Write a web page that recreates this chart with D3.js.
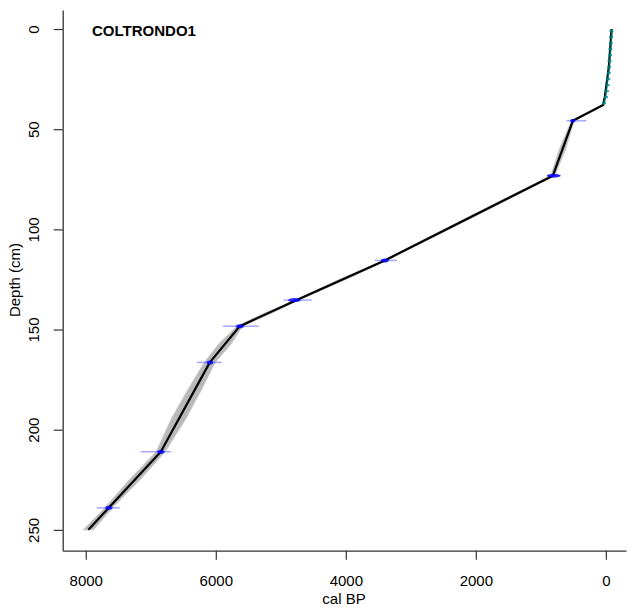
<!DOCTYPE html>
<html>
<head>
<meta charset="utf-8">
<script src="https://cdn.jsdelivr.net/npm/d3@7"></script>
<style>
  body { margin: 0; background: #fff; }
  svg { display: block; font-family: "Liberation Sans", Arial, sans-serif; }
</style>
</head>
<body>
<svg id="chart" width="629" height="607"></svg>
<script>
// age-depth model, mean curve (depth in cm, age in cal BP)
var meanDepth = [0, 19, 33.8, 37.9, 45.8, 73.2, 115.5, 135.3, 148.3, 166.4, 211, 239, 250];
var meanAge   = [-88, -46, 15, 42, 508, 815, 3400, 4754, 5631, 6092, 6846, 7646, 7960];

// grey uncertainty envelope
var bandDepth = [0, 19, 33.8, 37.9, 45.8, 60, 73.2, 95, 115.5, 125, 135.3, 142, 148.3, 157, 166.4, 180, 195, 211, 225, 239, 250];
var bandMin   = [-92, -50, 10, 35, 488, 620, 785, 2105, 3375, 4000, 4725, 5150, 5590, 5760, 6010, 6220, 6470, 6780, 7165, 7590, 7885];
var bandMax   = [-84, -42, 20, 50, 528, 715, 845, 2190, 3425, 4100, 4780, 5265, 5670, 5950, 6175, 6430, 6690, 6915, 7330, 7705, 8040];

// 210Pb dates (teal)
var pbDepth = [1, 4, 7, 10, 13, 16, 19, 22, 25, 28, 31, 34, 37];
var pbAge   = [-86, -82, -76, -70, -63, -56, -50, -44, -37, -28, -17, -2, 30];

// calibrated 14C dates (blue): full range and high-probability range
var dateDepth = [45.8, 73.2, 115.5, 135.3, 148.3, 166.4, 211, 239];
var dateMin   = [300, 690, 3215, 4523, 5338, 5908, 6692, 7477];
var dateMax   = [605, 910, 3553, 4954, 5892, 6292, 7154, 7831];
var hpdMin    = [470, 700, 3340, 4690, 5570, 6040, 6790, 7590];
var hpdMax    = [550, 905, 3460, 4890, 5690, 6140, 6900, 7700];

var xTicks = [8000, 6000, 4000, 2000, 0];
var yTicks = [0, 50, 100, 150, 200, 250];

var svg = d3.select("#chart");

var x = d3.scaleLinear().domain([8355, -310]).range([62.7, 626]);
var y = d3.scaleLinear().domain([-9.5, 260.4]).range([10, 550.7]);

// envelope
var band = bandDepth.map(function(d, i) { return {d: d, lo: bandMin[i], hi: bandMax[i]}; });
svg.append("path")
    .datum(band)
    .attr("fill", "#b9b9b9")
    .attr("stroke", "#c8c8c8")
    .attr("stroke-width", 1)
    .attr("stroke-linejoin", "round")
    .attr("d", d3.area()
      .y(function(d) { return y(d.d); })
      .x0(function(d) { return x(d.lo); })
      .x1(function(d) { return x(d.hi); }));

// mean line
var mean = meanDepth.map(function(d, i) { return {d: d, a: meanAge[i]}; });
svg.append("path")
    .datum(mean)
    .attr("fill", "none")
    .attr("stroke", "#000")
    .attr("stroke-width", 2.2)
    .attr("stroke-linejoin", "round")
    .attr("d", d3.line()
      .x(function(d) { return x(d.a); })
      .y(function(d) { return y(d.d); }));

// lead dates
pbDepth.forEach(function(d, i) {
  svg.append("line")
      .attr("x1", x(pbAge[i]) - 2).attr("x2", x(pbAge[i]) + 2)
      .attr("y1", y(d)).attr("y2", y(d))
      .attr("stroke", "rgba(0,140,140,0.8)")
      .attr("stroke-width", 2);
});
svg.append("path")
    .datum(mean.slice(0, 4))
    .attr("fill", "none")
    .attr("stroke", "rgba(0,130,130,0.75)")
    .attr("stroke-width", 1.6)
    .attr("d", d3.line()
      .x(function(d) { return x(d.a) + 0.6; })
      .y(function(d) { return y(d.d); }));

// radiocarbon dates
dateDepth.forEach(function(d, i) {
  svg.append("line")
      .attr("x1", x(dateMin[i])).attr("x2", x(dateMax[i]))
      .attr("y1", y(d)).attr("y2", y(d))
      .attr("stroke", "rgba(60,60,255,0.45)")
      .attr("stroke-width", 1.5);
  svg.append("ellipse")
      .attr("cx", (x(hpdMin[i]) + x(hpdMax[i])) / 2)
      .attr("cy", y(d))
      .attr("rx", Math.abs(x(hpdMax[i]) - x(hpdMin[i])) / 2)
      .attr("ry", 2)
      .attr("fill", "rgba(0,0,255,0.8)");
});

// axes
var fmt = d3.format("d");
var xAxis = svg.append("g")
    .attr("transform", "translate(0,550.7)")
    .call(d3.axisBottom(x).tickValues(xTicks).tickFormat(fmt).tickSize(9).tickSizeOuter(0).tickPadding(15.5));
var yAxis = svg.append("g")
    .attr("transform", "translate(62.7,0)")
    .call(d3.axisLeft(y).tickValues(yTicks).tickFormat(fmt).tickSize(9).tickSizeOuter(0));

svg.selectAll(".domain").attr("stroke", "#333").attr("stroke-width", 1.3);
svg.selectAll(".tick line").attr("stroke", "#333").attr("stroke-width", 1.2);
svg.selectAll(".tick text").attr("font-size", 15).attr("font-family", "Liberation Sans, Arial, sans-serif").attr("fill", "#000");

yAxis.selectAll(".tick text")
    .attr("transform", "rotate(-90)")
    .attr("x", 0)
    .attr("y", -24)
    .attr("dy", 0)
    .style("text-anchor", "middle");

svg.append("text")
    .attr("x", 344)
    .attr("y", 604)
    .attr("font-size", 15)
    .style("text-anchor", "middle")
    .text("cal BP");

svg.append("text")
    .attr("transform", "translate(20,280) rotate(-90)")
    .attr("font-size", 15)
    .style("text-anchor", "middle")
    .text("Depth (cm)");

svg.append("text")
    .attr("x", 92)
    .attr("y", 35.5)
    .attr("font-size", 15)
    .attr("font-weight", "bold")
    .text("COLTRONDO1");
</script>
</body>
</html>
